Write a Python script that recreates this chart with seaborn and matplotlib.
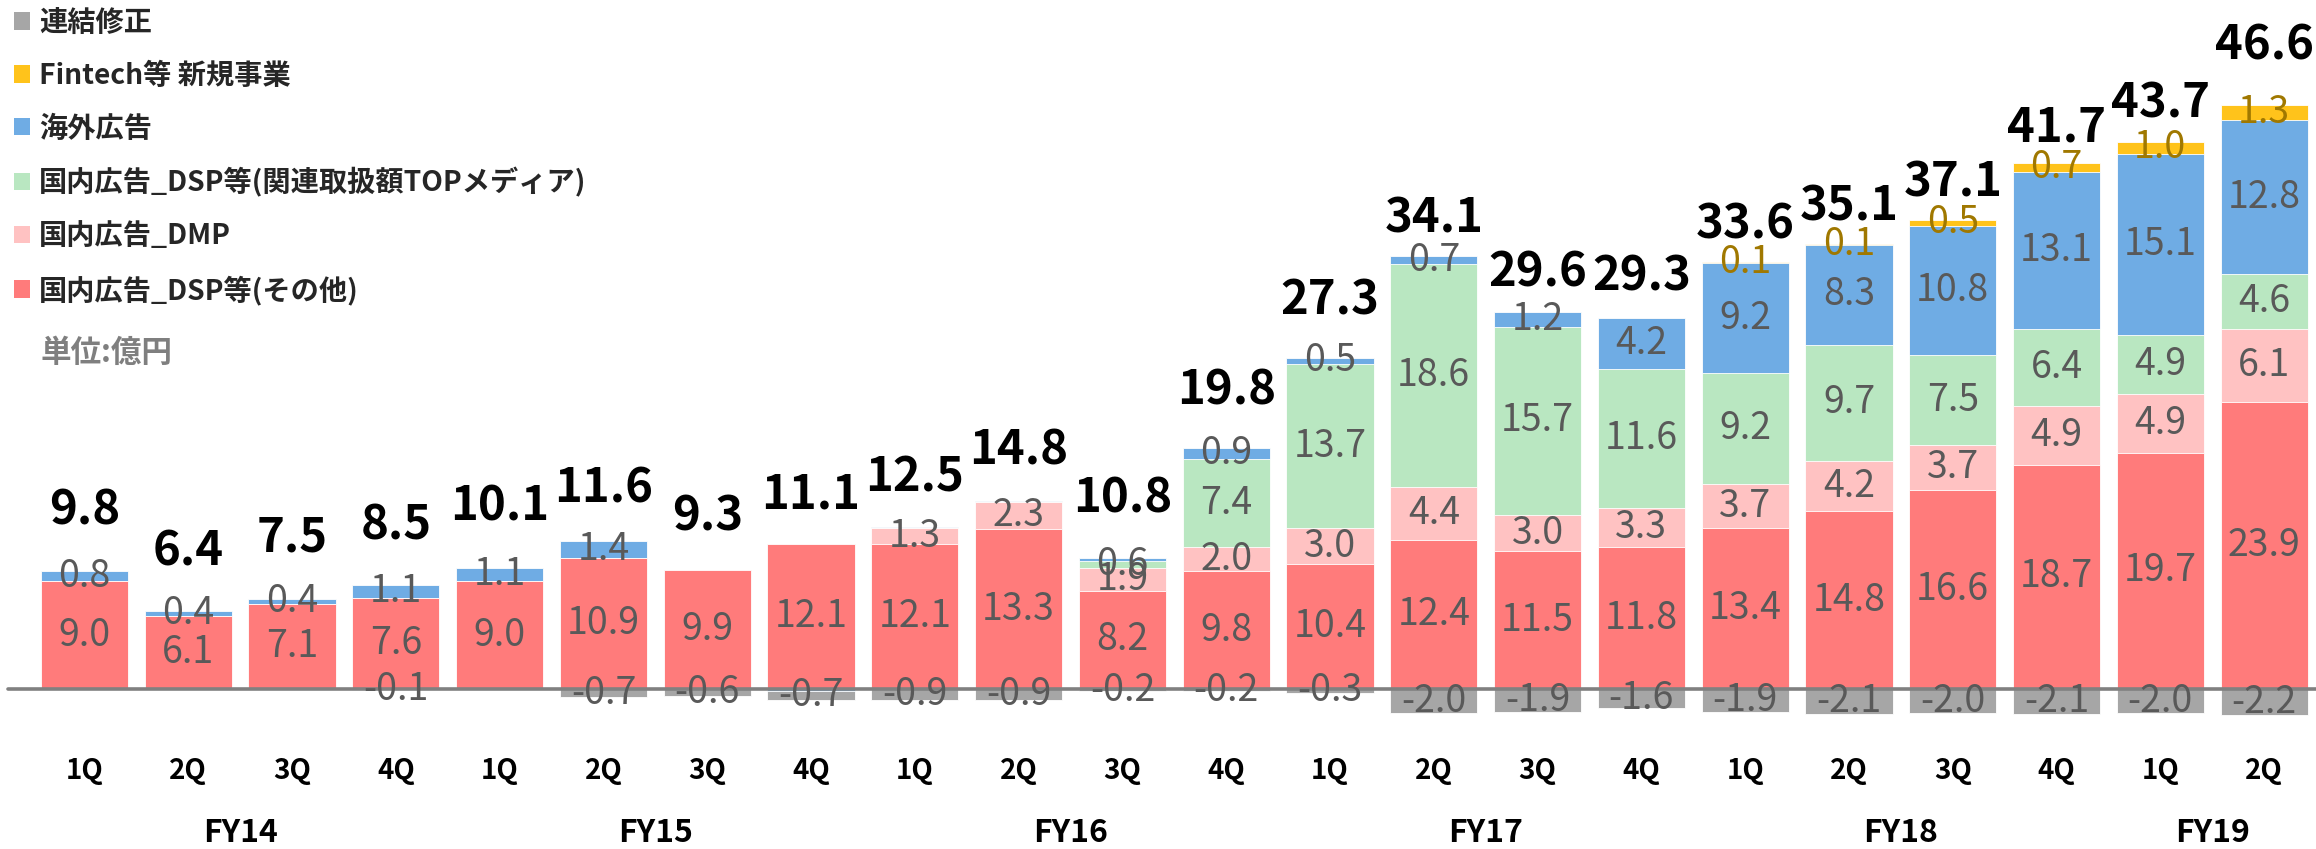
import numpy as np
import pandas as pd
import matplotlib
matplotlib.use("Agg")
import matplotlib.pyplot as plt
from matplotlib.patches import Patch
import seaborn as sns

# data (億円)
quarters = ["1Q", "2Q", "3Q", "4Q"] * 5 + ["1Q", "2Q"]
fy_labels = ["FY14", "FY15", "FY16", "FY17", "FY18", "FY19"]
fy_pos = [1.5, 5.5, 9.5, 13.5, 17.5, 20.5]

dsp_other = [9.0, 6.1, 7.1, 7.6, 9.0, 10.9, 9.9, 12.1, 12.1, 13.3, 8.2,
             9.8, 10.4, 12.4, 11.5, 11.8, 13.4, 14.8, 16.6, 18.7, 19.7, 23.9]
dmp = [0, 0, 0, 0, 0, 0, 0, 0, 1.3, 2.3, 1.9,
       2.0, 3.0, 4.4, 3.0, 3.3, 3.7, 4.2, 3.7, 4.9, 4.9, 6.1]
dsp_top = [0, 0, 0, 0, 0, 0, 0, 0, 0, 0, 0.6,
           7.4, 13.7, 18.6, 15.7, 11.6, 9.2, 9.7, 7.5, 6.4, 4.9, 4.6]
overseas = [0.8, 0.4, 0.4, 1.1, 1.1, 1.4, 0.0, -0.2, 0.1, 0.1, 0.2,
            0.9, 0.5, 0.7, 1.2, 4.2, 9.2, 8.3, 10.8, 13.1, 15.1, 12.8]
fintech = [0, 0, 0, 0, 0, 0, 0, 0, 0, 0, 0,
           0, 0, 0, 0, 0.05, 0.1, 0.1, 0.5, 0.7, 1.0, 1.3]
adjust = [0, 0, 0, -0.1, 0, -0.7, -0.6, -0.7, -0.9, -0.9, -0.2,
          -0.2, -0.3, -2.0, -1.9, -1.6, -1.9, -2.1, -2.0, -2.1, -2.0, -2.2]
totals = [9.8, 6.4, 7.5, 8.5, 10.1, 11.6, 9.3, 11.1, 12.5, 14.8, 10.8,
          19.8, 27.3, 34.1, 29.6, 29.3, 33.6, 35.1, 37.1, 41.7, 43.7, 46.6]

names = ["国内広告_DSP等(その他)", "国内広告_DMP", "国内広告_DSP等(関連取扱額TOPメディア)",
         "海外広告", "Fintech等 新規事業", "連結修正"]
colors = ["#FF7B7B", "#FFC2C2", "#B9E7C1", "#6FACE4", "#FFC31B", "#A6A6A6"]

sns.set_theme(style="white")
plt.rcParams["font.family"] = ["Noto Sans CJK JP", "DejaVu Sans"]

n = len(totals)
df = pd.DataFrame({
    "idx": np.arange(n),
    "red": dsp_other, "pink": dmp, "green": dsp_top,
    "blue": overseas, "yellow": fintech, "gray": adjust,
})
df["blue_pos"] = df["blue"].clip(lower=0)
df["blue_neg"] = df["blue"].clip(upper=0)
df["c1"] = df["red"]
df["c2"] = df["c1"] + df["pink"]
df["c3"] = df["c2"] + df["green"]
df["c4"] = df["c3"] + df["blue_pos"]
df["c5"] = df["c4"] + df["yellow"]
df["n1"] = df["blue_neg"] + df["gray"]

fig = plt.figure(figsize=(23.16, 8.49), dpi=100)
ax = fig.add_axes([0, 0, 1, 1])

W = 0.84
# overlay cumulative bars, top layer first
for col, c in [("c5", colors[4]), ("c4", colors[3]), ("c3", colors[2]),
               ("c2", colors[1]), ("c1", colors[0]),
               ("n1", colors[5]), ("blue_neg", colors[3])]:
    sns.barplot(data=df, x="idx", y=col, color=c, saturation=1, width=W,
                errorbar=None, edgecolor="white", linewidth=0.6, ax=ax)

ax.axhline(0, xmin=0.0035, color="#808080", lw=2.6, zorder=5)

# segment labels
seg_col = "#595959"
fin_col = "#A07800"
for i in range(n):
    bottom = 0
    for key, val in [("red", dsp_other[i]), ("pink", dmp[i]), ("green", dsp_top[i]),
                     ("blue", overseas[i]), ("yellow", fintech[i])]:
        if val <= 0:
            continue
        show = val >= 0.1 if key == "yellow" else val >= 0.4
        if show:
            ax.text(i, bottom + val / 2, f"{val:.1f}", ha="center", va="center",
                    fontsize=27, color=fin_col if key == "yellow" else seg_col,
                    zorder=6)
        bottom += val
    if adjust[i] != 0:
        ax.text(i, min(overseas[i], 0) + adjust[i] / 2, f"{adjust[i]:.1f}",
                ha="center", va="center", fontsize=27, color=seg_col, zorder=6)
    # totals
    lift = 7.0 if i == n - 1 else 5.1
    ax.text(i, totals[i] + lift, f"{totals[i]:.1f}", ha="center", va="center",
            fontsize=34, fontweight="bold", color="black", zorder=7)

# category labels
for i, q in enumerate(quarters):
    ax.text(i, -6.85, q, ha="center", va="center", fontsize=20,
            fontweight="bold", color="black")
for p, fy in zip(fy_pos, fy_labels):
    ax.text(p, -12.0, fy, ha="center", va="center", fontsize=23,
            fontweight="bold", color="black")

ax.set_xlim(-0.814, 21.5)
ax.set_ylim(-13.33, 57.42)
ax.set_axis_off()

handles = [Patch(facecolor=colors[k], edgecolor="none", label=names[k])
           for k in [5, 4, 3, 2, 1, 0]]
leg = fig.legend(handles=handles, loc="upper left",
                 bbox_to_anchor=(14 / 2316, 1 - 9 / 849), frameon=False,
                 prop={"size": 20.3, "weight": "bold"}, handlelength=0.58,
                 handleheight=0.58, handletextpad=0.3, labelspacing=0.88,
                 borderpad=0, borderaxespad=0)

fig.text(41 / 2316, 1 - 353 / 849, "単位:億円", ha="left", va="center",
         fontsize=22, fontweight="bold", color="#7F7F7F")

fig.savefig("out.png", dpi=100)
